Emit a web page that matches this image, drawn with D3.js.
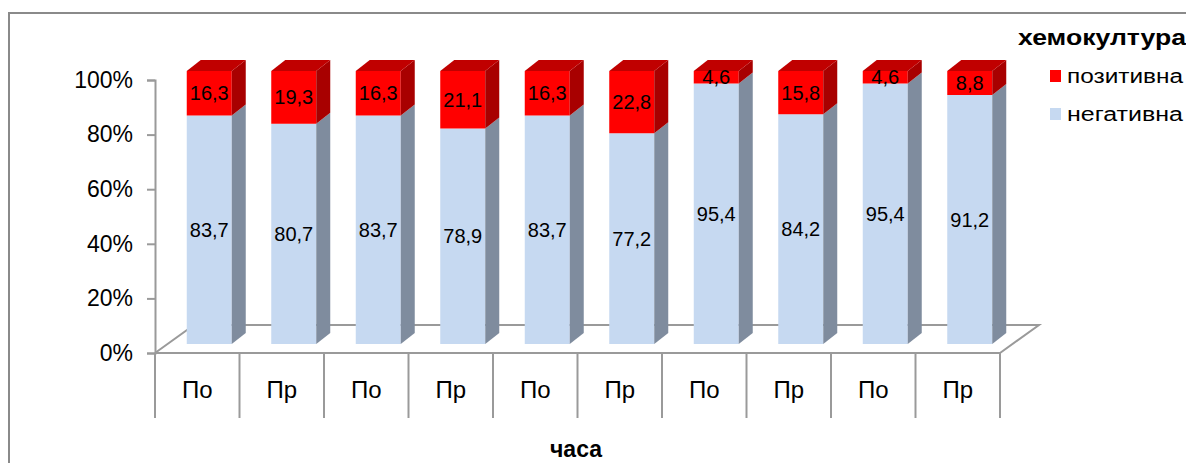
<!DOCTYPE html>
<html>
<head>
<meta charset="utf-8">
<script src="https://cdn.jsdelivr.net/npm/d3@7/dist/d3.min.js"></script>
<style>
  html, body { margin: 0; padding: 0; background: #fff; }
  svg { display: block; font-family: "Liberation Sans", Arial, sans-serif; }
</style>
</head>
<body>
<svg id="chart" width="1186" height="463"></svg>
<script>
// Blood culture results per group (percent of each column)
const categories = ["По", "Пр", "По", "Пр", "По", "Пр", "По", "Пр", "По", "Пр"];
const negative = [83.7, 80.7, 83.7, 78.9, 83.7, 77.2, 95.4, 84.2, 95.4, 91.2];
const positive = [16.3, 19.3, 16.3, 21.1, 16.3, 22.8, 4.6, 15.8, 4.6, 8.8];
const yTicks = [0, 20, 40, 60, 80, 100];
const seriesNames = ["позитивна", "негативна"];
const legendTitle = "хемокултура";
const axisTitle = "часа";

const svg = d3.select("#chart");

// Plot geometry (front plane of the 3D box)
const plotLeft = 155, plotRight = 1000, plotBottom = 353, plotTop = 80;
const floorDx = 39, floorDy = -28;   // depth of the floor
const barOffX = 12, barOffY = -9;    // bars sit mid-depth
const barDx = 14, barDy = -11;       // bar thickness
const barW = 45;

const x = d3.scaleBand().domain(d3.range(categories.length)).range([plotLeft, plotRight]).paddingInner(0).paddingOuter(0);
const y = d3.scaleLinear().domain([0, 100]).range([plotBottom, plotTop]);

const colors = {
  negFront: "#c6d9f1", negSide: "#7f8c9e", negTop: "#9aaec8",
  posFront: "#ff0000", posSide: "#a80000", posTop: "#c00000"
};
const gridColor = "#9a9a9a";
const fmt = v => d3.format(".1f")(v).replace(".", ",");

// Outer chart frame
svg.append("rect")
  .attr("x", 9).attr("y", 13).attr("width", 1300).attr("height", 600)
  .attr("fill", "none").attr("stroke", "#8a8a8a").attr("stroke-width", 2);

// Floor of the 3D plot
const floor = svg.append("g").attr("stroke", gridColor).attr("stroke-width", 2).attr("fill", "none");
floor.append("path").attr("d", d3.line()([
  [plotLeft, plotBottom], [plotLeft + floorDx, plotBottom + floorDy],
  [plotRight + floorDx, plotBottom + floorDy], [plotRight, plotBottom]
]));

// Value axis
const yAxis = d3.axisLeft(y).tickValues(yTicks).tickSize(8).tickPadding(14)
  .tickFormat(d => d + "%");
const ya = svg.append("g").attr("transform", `translate(${plotLeft},0)`).call(yAxis);
ya.select(".domain").attr("stroke", gridColor).attr("stroke-width", 2);
ya.selectAll(".tick line").attr("stroke", gridColor).attr("stroke-width", 2);
ya.selectAll(".tick text").attr("font-size", 23).attr("fill", "#000")
  .attr("font-family", "Liberation Sans, Arial, sans-serif");

// Category axis: front edge of floor with band dividers
const xa = svg.append("g");
xa.append("line").attr("x1", plotLeft).attr("x2", plotRight).attr("y1", plotBottom).attr("y2", plotBottom)
  .attr("stroke", gridColor).attr("stroke-width", 2);
const dividers = d3.range(categories.length + 1).map(i => i < categories.length ? x(i) : x(categories.length - 1) + x.bandwidth());
xa.selectAll("line.div").data(dividers).join("line").attr("class", "div")
  .attr("x1", d => d).attr("x2", d => d).attr("y1", plotBottom).attr("y2", 418)
  .attr("stroke", gridColor).attr("stroke-width", 2);
xa.selectAll("text").data(categories).join("text")
  .attr("x", (d, i) => x(i) + x.bandwidth() / 2).attr("y", 398)
  .attr("text-anchor", "middle").attr("font-size", 24).attr("fill", "#000")
  .text(d => d);

// Axis title
svg.append("text").attr("x", 576).attr("y", 457).attr("text-anchor", "middle")
  .attr("font-size", 23).attr("font-weight", "bold").attr("fill", "#000").text(axisTitle);

// Draws one 3D box segment between two values
function box(g, x0, v0, v1, front, side, topc, withTop) {
  const x1 = x0 + barW;
  const ya0 = y(v0) + barOffY, ya1 = y(v1) + barOffY;
  g.append("path").attr("fill", front)
    .attr("d", d3.line()([[x0, ya0], [x1, ya0], [x1, ya1], [x0, ya1]]) + "Z");
  g.append("path").attr("fill", side)
    .attr("d", d3.line()([[x1, ya0], [x1 + barDx, ya0 + barDy], [x1 + barDx, ya1 + barDy], [x1, ya1]]) + "Z");
  if (withTop) {
    g.append("path").attr("fill", topc)
      .attr("d", d3.line()([[x0, ya1], [x0 + barDx, ya1 + barDy], [x1 + barDx, ya1 + barDy], [x1, ya1]]) + "Z");
  }
}

const bars = svg.append("g");
categories.forEach((c, i) => {
  const g = bars.append("g");
  const x0 = x(i) + x.bandwidth() / 2 + barOffX - barW / 2;
  const n = negative[i], p = positive[i];
  box(g, x0, 0, n, colors.negFront, colors.negSide, colors.negTop, false);
  box(g, x0, n, n + p, colors.posFront, colors.posSide, colors.posTop, true);
  // value labels
  g.append("text").attr("x", x0 + barW / 2).attr("y", y(n / 2) + barOffY)
    .attr("text-anchor", "middle").attr("dominant-baseline", "central")
    .attr("font-size", 20).attr("fill", "#000").text(fmt(n));
  g.append("text").attr("x", x0 + barW / 2).attr("y", y(n + p / 2) + barOffY)
    .attr("text-anchor", "middle").attr("dominant-baseline", "central")
    .attr("font-size", 20).attr("fill", "#000").text(fmt(p));
});

// Legend
const legend = svg.append("g");
legend.append("text").attr("x", 1018).attr("y", 45).attr("font-size", 22)
  .attr("font-weight", "bold").attr("fill", "#000")
  .attr("textLength", 168).attr("lengthAdjust", "spacingAndGlyphs").text(legendTitle);
const legendColors = [colors.posFront, colors.negFront];
seriesNames.forEach((s, i) => {
  const yy = 70 + i * 38;
  legend.append("rect").attr("x", 1050).attr("y", yy).attr("width", 11).attr("height", 12)
    .attr("fill", legendColors[i]);
  legend.append("text").attr("x", 1067).attr("y", yy + 13).attr("font-size", 20)
    .attr("fill", "#000").attr("textLength", 116).attr("lengthAdjust", "spacingAndGlyphs").text(s);
});
</script>
</body>
</html>
